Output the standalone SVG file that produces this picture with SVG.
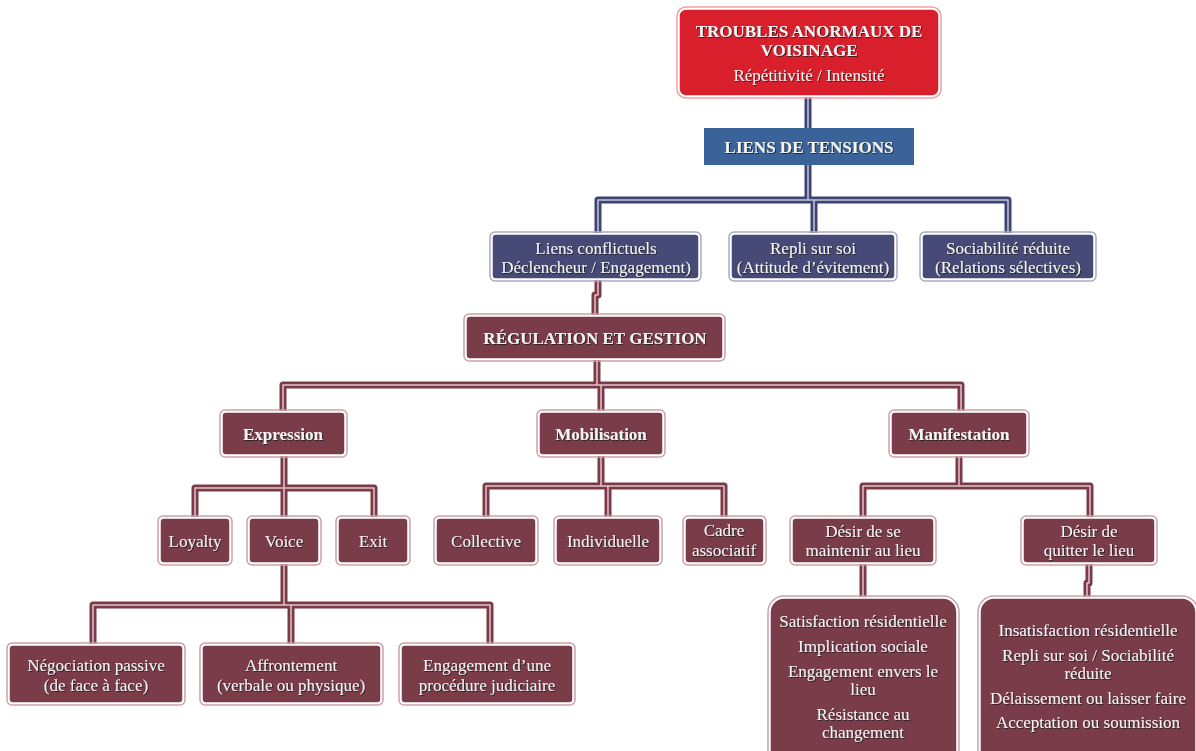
<svg xmlns="http://www.w3.org/2000/svg" width="1196" height="751" viewBox="0 0 1196 751">
  <defs>
    <filter id="shadow" x="-10%" y="-30%" width="120%" height="160%">
      <feDropShadow dx="1" dy="1" stdDeviation="0.4" flood-color="#1a1a1a" flood-opacity="0.85"/>
    </filter>
    <style>
      text { font-family: "Liberation Serif", "Times New Roman", serif; font-size: 17px; fill: #f4f4f4; text-anchor: middle; filter: url(#shadow); }
      .b { font-weight: bold; }
      .halo { fill: none; stroke-width: 1.5; }
      .maroon { fill: #7b3c4a; stroke: #ffffff; stroke-width: 1.5; }
      .maroon-halo { stroke: #c9a3ab; }
      .navy { fill: #474a77; stroke: #ffffff; stroke-width: 1.5; }
      .navy-halo { stroke: #a9abc4; }
      .red { fill: #d81f2b; stroke: #ffffff; stroke-width: 1.5; }
      .red-halo { stroke: #f0a0a6; }
      .blue { fill: #3a6399; }
      .ln { fill: none; stroke-width: 7; stroke-linejoin: round; stroke-linecap: butt; }
      .ln-hi { fill: none; stroke-width: 1.5; stroke-linejoin: round; }
      .ln-navy { stroke: #3d4372; }
      .ln-navy-hi { stroke: #c6c8da; }
      .ln-mar { stroke: #7a3a48; }
      .ln-mar-hi { stroke: #e4c4ca; }
    </style>
  </defs>

  <!-- connectors -->
  <g id="connectors">
    <g class="ln ln-navy">
      <path d="M808,97 V128"/>
      <path d="M808,165 V200"/>
      <path d="M598,233 V200 H1008 V233"/>
      <path d="M814,200 V233"/>
    </g>
    <g class="ln-hi ln-navy-hi">
      <path d="M808,97 V128"/>
      <path d="M808,165 V200"/>
      <path d="M598,233 V200 H1008 V233"/>
      <path d="M814,200 V233"/>
    </g>
    <g class="ln ln-mar">
      <path d="M598,280 V295 H595 V315"/>
      <path d="M597,360 V385"/>
      <path d="M283,411 V385 H961 V411"/>
      <path d="M601,385 V411"/>
      <path d="M284,456 V488"/>
      <path d="M195,517 V488 H374 V517"/>
      <path d="M284,488 V517"/>
      <path d="M601,456 V486"/>
      <path d="M486,517 V486 H724 V517"/>
      <path d="M608,486 V517"/>
      <path d="M284,564 V605"/>
      <path d="M93,644 V605 H490 V644"/>
      <path d="M291,605 V644"/>
      <path d="M959,456 V486"/>
      <path d="M863,517 V486 H1090 V517"/>
      <path d="M863,564 V597"/>
      <path d="M1089,564 V583 H1087 V597"/>
    </g>
    <g class="ln-hi ln-mar-hi">
      <path d="M598,280 V295 H595 V315"/>
      <path d="M597,360 V385"/>
      <path d="M283,411 V385 H961 V411"/>
      <path d="M601,385 V411"/>
      <path d="M284,456 V488"/>
      <path d="M195,517 V488 H374 V517"/>
      <path d="M284,488 V517"/>
      <path d="M601,456 V486"/>
      <path d="M486,517 V486 H724 V517"/>
      <path d="M608,486 V517"/>
      <path d="M284,564 V605"/>
      <path d="M93,644 V605 H490 V644"/>
      <path d="M291,605 V644"/>
      <path d="M959,456 V486"/>
      <path d="M863,517 V486 H1090 V517"/>
      <path d="M863,564 V597"/>
      <path d="M1089,564 V583 H1087 V597"/>
    </g>
  </g>

  <!-- top level -->
  <g id="troubles">
    <rect class="halo red-halo" x="677" y="7" width="264" height="91" rx="9"/>
    <rect class="red" x="679" y="9" width="260" height="87" rx="7"/>
    <text class="b" x="809" y="37">TROUBLES ANORMAUX DE</text>
    <text class="b" x="809" y="56">VOISINAGE</text>
    <text x="809" y="81">Répétitivité / Intensité</text>
  </g>

  <g id="liens-tensions">
    <rect class="blue" x="704" y="128" width="210" height="37"/>
    <text class="b" x="809" y="153">LIENS DE TENSIONS</text>
  </g>

  <!-- tension types -->
  <g id="liens-conflictuels">
    <rect class="halo navy-halo" x="490" y="232" width="211" height="49" rx="5"/>
    <rect class="navy" x="492" y="234" width="207" height="45" rx="4"/>
    <text x="596" y="254">Liens conflictuels</text>
    <text x="596" y="273">Déclencheur / Engagement)</text>
  </g>

  <g id="repli">
    <rect class="halo navy-halo" x="729" y="232" width="168" height="49" rx="5"/>
    <rect class="navy" x="731" y="234" width="164" height="45" rx="4"/>
    <text x="813" y="254">Repli sur soi</text>
    <text x="813" y="273">(Attitude d’évitement)</text>
  </g>

  <g id="sociabilite">
    <rect class="halo navy-halo" x="920" y="232" width="176" height="49" rx="5"/>
    <rect class="navy" x="922" y="234" width="172" height="45" rx="4"/>
    <text x="1008" y="254">Sociabilité réduite</text>
    <text x="1008" y="273">(Relations sélectives)</text>
  </g>

  <!-- regulation -->
  <g id="regulation">
    <rect class="halo maroon-halo" x="464" y="314" width="261" height="47" rx="5"/>
    <rect class="maroon" x="466" y="316" width="257" height="43" rx="4"/>
    <text class="b" x="595" y="344">RÉGULATION ET GESTION</text>
  </g>

  <g id="expression">
    <rect class="halo maroon-halo" x="220" y="410" width="127" height="47" rx="5"/>
    <rect class="maroon" x="222" y="412" width="123" height="43" rx="4"/>
    <text class="b" x="283" y="440">Expression</text>
  </g>

  <g id="mobilisation">
    <rect class="halo maroon-halo" x="537" y="410" width="128" height="47" rx="5"/>
    <rect class="maroon" x="539" y="412" width="124" height="43" rx="4"/>
    <text class="b" x="601" y="440">Mobilisation</text>
  </g>

  <g id="manifestation">
    <rect class="halo maroon-halo" x="889" y="410" width="140" height="47" rx="5"/>
    <rect class="maroon" x="891" y="412" width="136" height="43" rx="4"/>
    <text class="b" x="959" y="440">Manifestation</text>
  </g>

  <!-- expression branch -->
  <g id="loyalty">
    <rect class="halo maroon-halo" x="158" y="516" width="74" height="49" rx="5"/>
    <rect class="maroon" x="160" y="518" width="70" height="45" rx="4"/>
    <text x="195" y="547">Loyalty</text>
  </g>

  <g id="voice">
    <rect class="halo maroon-halo" x="247" y="516" width="74" height="49" rx="5"/>
    <rect class="maroon" x="249" y="518" width="70" height="45" rx="4"/>
    <text x="284" y="547">Voice</text>
  </g>

  <g id="exit">
    <rect class="halo maroon-halo" x="336" y="516" width="74" height="49" rx="5"/>
    <rect class="maroon" x="338" y="518" width="70" height="45" rx="4"/>
    <text x="373" y="547">Exit</text>
  </g>

  <!-- mobilisation branch -->
  <g id="collective">
    <rect class="halo maroon-halo" x="434" y="516" width="104" height="49" rx="5"/>
    <rect class="maroon" x="436" y="518" width="100" height="45" rx="4"/>
    <text x="486" y="547">Collective</text>
  </g>

  <g id="individuelle">
    <rect class="halo maroon-halo" x="554" y="516" width="108" height="49" rx="5"/>
    <rect class="maroon" x="556" y="518" width="104" height="45" rx="4"/>
    <text x="608" y="547">Individuelle</text>
  </g>

  <g id="cadre-associatif">
    <rect class="halo maroon-halo" x="683" y="516" width="83" height="49" rx="5"/>
    <rect class="maroon" x="685" y="518" width="79" height="45" rx="4"/>
    <text x="724" y="536">Cadre</text>
    <text x="724" y="556">associatif</text>
  </g>

  <!-- voice outcomes -->
  <g id="negociation">
    <rect class="halo maroon-halo" x="7" y="643" width="178" height="62" rx="5"/>
    <rect class="maroon" x="9" y="645" width="174" height="58" rx="4"/>
    <text x="96" y="671">Négociation passive</text>
    <text x="96" y="691">(de face à face)</text>
  </g>

  <g id="affrontement">
    <rect class="halo maroon-halo" x="200" y="643" width="183" height="62" rx="5"/>
    <rect class="maroon" x="202" y="645" width="179" height="58" rx="4"/>
    <text x="291" y="671">Affrontement</text>
    <text x="291" y="691">(verbale ou physique)</text>
  </g>

  <g id="procedure">
    <rect class="halo maroon-halo" x="399" y="643" width="176" height="62" rx="5"/>
    <rect class="maroon" x="401" y="645" width="172" height="58" rx="4"/>
    <text x="487" y="671">Engagement d’une</text>
    <text x="487" y="691">procédure judiciaire</text>
  </g>

  <!-- manifestation branch -->
  <g id="maintenir">
    <rect class="halo maroon-halo" x="790" y="516" width="146" height="49" rx="5"/>
    <rect class="maroon" x="792" y="518" width="142" height="45" rx="4"/>
    <text x="863" y="537">Désir de se</text>
    <text x="863" y="556">maintenir au lieu</text>
  </g>

  <g id="quitter">
    <rect class="halo maroon-halo" x="1021" y="516" width="136" height="49" rx="5"/>
    <rect class="maroon" x="1023" y="518" width="132" height="45" rx="4"/>
    <text x="1089" y="537">Désir de</text>
    <text x="1089" y="556">quitter le lieu</text>
  </g>

  <g id="maintenir-details">
    <rect class="halo maroon-halo" x="768" y="596" width="191" height="170" rx="16"/>
    <rect class="maroon" x="770" y="598" width="187" height="166" rx="14"/>
    <text x="863" y="627">Satisfaction résidentielle</text>
    <text x="863" y="652">Implication sociale</text>
    <text x="863" y="677">Engagement envers le</text>
    <text x="863" y="695">lieu</text>
    <text x="863" y="720">Résistance au</text>
    <text x="863" y="738">changement</text>
  </g>

  <g id="quitter-details">
    <rect class="halo maroon-halo" x="978" y="596" width="220" height="170" rx="16"/>
    <rect class="maroon" x="980" y="598" width="216" height="166" rx="14"/>
    <text x="1088" y="636">Insatisfaction résidentielle</text>
    <text x="1088" y="661">Repli sur soi / Sociabilité</text>
    <text x="1088" y="679">réduite</text>
    <text x="1088" y="704">Délaissement ou laisser faire</text>
    <text x="1088" y="728">Acceptation ou soumission</text>
  </g>
</svg>
